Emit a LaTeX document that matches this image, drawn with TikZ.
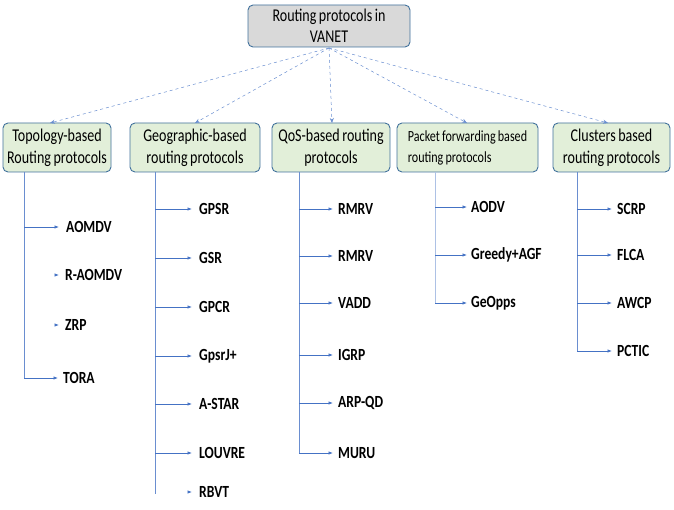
\documentclass[tikz,border=0pt]{standalone}
\usepackage{fontspec}
\setmainfont{Carlito}
\newfontfamily\boxfont[FakeStretch=0.78,WordSpace=0.8]{Carlito}
\newfontfamily\leaffont[FakeStretch=0.8,WordSpace=0.8]{Carlito}
\usetikzlibrary{arrows.meta}
\definecolor{bord}{HTML}{41719C}
\definecolor{green}{HTML}{E2EFD9}
\definecolor{grayf}{HTML}{D9D9D9}
\definecolor{arr}{HTML}{4472C4}
\definecolor{arrl}{HTML}{6A8ED0}
\tikzset{
  catbox/.style={draw=bord, line width=0.9pt, rounded corners=5pt, fill=green,
    minimum height=49pt, inner sep=0pt, align=center, font=\boxfont\fontsize{18}{22}\selectfont},
  topbox/.style={catbox, fill=grayf, minimum height=42pt, font=\boxfont\fontsize{18}{21}\selectfont},
  dasharr/.style={draw=arr!80, dashed, line width=0.5pt, -{Stealth[length=5pt,width=4pt]}},
  vline/.style={draw=arrl, line width=0.8pt},
  leafarr/.style={draw=arr, line width=0.7pt, -{Latex[length=4.5pt,width=3.5pt]}},
  leaf/.style={anchor=west, inner sep=0pt, font=\leaffont\bfseries\fontsize{17}{18}\selectfont},
}
\begin{document}
\begin{tikzpicture}[x=1pt,y=-1pt]
\useasboundingbox (0,0) rectangle (674,510);
% top
\node[topbox, minimum width=162pt] (top) at (329,26) {Routing protocols in\\VANET};
% categories
\node[catbox, minimum width=108pt] (topo) at (57,147.5) {Topology-based\\Routing protocols};
\node[catbox, minimum width=130pt] (geo) at (195,147.5) {Geographic-based\\routing protocols};
\node[catbox, minimum width=118pt] (qos) at (331,147.5) {QoS-based routing\\protocols};
\node[catbox, minimum width=141pt, font=\boxfont\fontsize{15.5}{21}\selectfont, align=left] (pkt) at (467.5,147.5) {Packet forwarding based\\routing protocols};
\node[catbox, minimum width=117pt] (clu) at (611.5,147.5) {Clusters based\\routing protocols};
\coordinate (src) at (329,48);
\draw[dasharr] (src) -- (50,123);
\draw[dasharr] (src) -- (195,123);
\draw[dasharr] (src) -- (332,123);
\draw[dasharr] (src) -- (467,123);
\draw[dasharr] (src) -- (608,123);

% Topology
\coordinate (t0) at (24,172); \coordinate (t1) at (24,378);
\draw[vline] (t0) -- (t1);
\node[leaf] (aomdv) at (66,227) {AOMDV};
\node[leaf] (raomdv) at (65,275) {R-AOMDV};
\node[leaf] (zrp) at (65,325) {ZRP};
\node[leaf] (tora) at (63,378) {TORA};
\coordinate (ta) at (24,227);
\draw[leafarr] (ta) -- ([xshift=-7pt]aomdv.west);
\draw[leafarr] ([xshift=-9pt]raomdv.west) -- ([xshift=-6pt]raomdv.west);
\draw[leafarr] ([xshift=-9pt]zrp.west) -- ([xshift=-6pt]zrp.west);
\draw[leafarr] (t1) -- ([xshift=-5pt]tora.west);

% Geographic
\coordinate (g0) at (155,172); \coordinate (g1) at (155,494);
\draw[vline] (g0) -- (g1);
\foreach \n/\t/\y in {gpsr/GPSR/209, gsr/GSR/258, gpcr/GPCR/307, gpsrj/GpsrJ+/356, astar/A-STAR/404, louvre/LOUVRE/453}{
  \node[leaf] (\n) at (199,\y) {\t};
  \coordinate (\n b) at (155,\y);
  \draw[leafarr] (\n b) -- ([xshift=-7pt]\n.west);
}
\node[leaf] (rbvt) at (199,492) {RBVT};
\draw[leafarr] ([xshift=-10pt]rbvt.west) -- ([xshift=-7pt]rbvt.west);

% QoS
\coordinate (q0) at (299,172); \coordinate (q1) at (299,453);
\draw[vline] (q0) -- (q1);
\foreach \n/\t/\y in {rmrva/RMRV/209, rmrvb/RMRV/256, vadd/VADD/303, igrp/IGRP/355, arpqd/ARP-QD/403, muru/MURU/453}{
  \node[leaf] (\n) at (338,\y) {\t};
  \coordinate (\n b) at (299,\y);
  \draw[leafarr] (\n b) -- ([xshift=-5pt]\n.west);
}

% Packet forwarding
\coordinate (p0) at (435,172); \coordinate (p1) at (435,303);
\draw[vline, draw=arrl!55] (p0) -- (p1);
\foreach \n/\t/\y in {aodv/AODV/207, greedy/Greedy+AGF/255, geopps/GeOpps/303}{
  \node[leaf] (\n) at (471,\y) {\t};
  \coordinate (\n b) at (435,\y);
  \draw[leafarr] (\n b) -- ([xshift=-4pt]\n.west);
}

% Clusters
\coordinate (c0) at (577,172); \coordinate (c1) at (577,351);
\draw[vline] (c0) -- (c1);
\foreach \n/\t/\y in {scrp/SCRP/209, flca/FLCA/255, awcp/AWCP/303, pctic/PCTIC/351}{
  \node[leaf] (\n) at (617,\y) {\t};
  \coordinate (\n b) at (577,\y);
  \draw[leafarr] (\n b) -- ([xshift=-5pt]\n.west);
}
\end{tikzpicture}
\end{document}
